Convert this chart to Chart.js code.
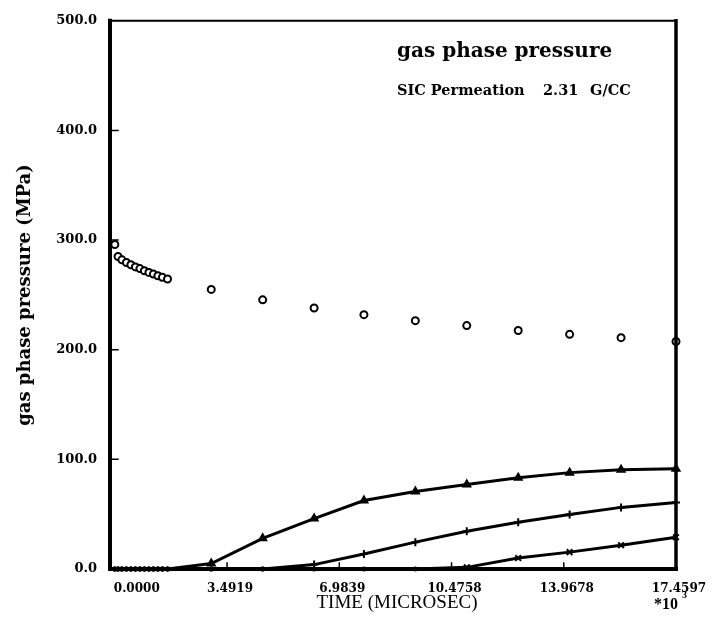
<!DOCTYPE html>
<html>
<head>
<meta charset="utf-8">
<script src="https://cdn.jsdelivr.net/npm/chart.js@4/dist/chart.umd.min.js"></script>
<style>
  html, body { margin: 0; padding: 0; background: #fff; }
  canvas { display: block; }
</style>
</head>
<body>
<canvas id="pressureChart" width="713" height="630"></canvas>
<script>
// time (x 10^3 microsec)
const times = [0, 0.1, 0.22, 0.36, 0.5, 0.64, 0.78, 0.92, 1.06, 1.2, 1.34, 1.48, 1.64,
  3.0, 4.6, 6.2, 7.75, 9.35, 10.95, 12.55, 14.15, 15.75, 17.4597];

// gas phase pressure (MPa)
const gasPressure = [296, 285, 282, 279.5, 277.5, 275.5, 274, 272, 270.5, 269, 267.5, 266, 264.5,
  255, 245.5, 238, 232, 226.5, 222, 217.5, 214, 211, 207.5];
const triangleSeries = [0, 0, 0, 0, 0, 0, 0, 0, 0, 0, 0, 0, 0,
  5, 28, 46, 62.5, 70.7, 77, 83.3, 87.9, 90.6, 91.5];
const plusSeries = [0, 0, 0, 0, 0, 0, 0, 0, 0, 0, 0, 0, 0,
  0, 0, 4, 13.6, 24.5, 34.4, 42.6, 49.8, 56.2, 60.7];
const crossSeries = [0, 0, 0, 0, 0, 0, 0, 0, 0, 0, 0, 0, 0,
  0, 0, 0, 0, 0, 1.5, 10, 15.4, 21.7, 29];

// axis ticks
const xTicks = [0, 3.4919, 6.9839, 10.4758, 13.9678, 17.4597];
const xTickLabels = ["0.0000", "3.4919", "6.9839", "10.4758", "13.9678", "17.4597"];
const yTicks = [0, 100, 200, 300, 400, 500];

const toPoints = (ys) => times.map((t, i) => ({ x: t, y: ys[i] }));

// points still sitting on zero show up as small dots along the axis
const onZero = (c) => c.raw && c.raw.y === 0;

const lineSet = (ys, style) => ({
  data: toPoints(ys),
  showLine: true,
  borderColor: "#000",
  backgroundColor: "#000",
  borderWidth: 3,
  pointStyle: (c) => (onZero(c) ? "circle" : style),
  pointRadius: (c) => (onZero(c) ? 1.5 : 4),
  pointBorderWidth: 2,
  clip: false
});

// frame, inward ticks and all the text
const framePlugin = {
  id: "frame",
  afterDraw(chart) {
    const { ctx, chartArea: a, scales } = chart;
    const xs = scales.x, ys = scales.y;
    ctx.save();
    ctx.strokeStyle = "#000";
    ctx.lineCap = "square";

    // box
    ctx.lineWidth = 4;
    ctx.beginPath();
    ctx.moveTo(a.left, a.top); ctx.lineTo(a.left, a.bottom); ctx.lineTo(a.right, a.bottom);
    ctx.stroke();
    ctx.lineWidth = 3.5;
    ctx.beginPath();
    ctx.moveTo(a.right, a.bottom); ctx.lineTo(a.right, a.top);
    ctx.stroke();
    ctx.lineWidth = 2;
    ctx.beginPath();
    ctx.moveTo(a.left, a.top); ctx.lineTo(a.right, a.top);
    ctx.stroke();

    // inward ticks
    ctx.lineWidth = 1.5;
    ctx.beginPath();
    yTicks.slice(1, -1).forEach((v) => {
      const y = ys.getPixelForValue(v);
      ctx.moveTo(a.left, y); ctx.lineTo(a.left + 8, y);
    });
    xTicks.slice(1, -1).forEach((v) => {
      const x = xs.getPixelForValue(v);
      ctx.moveTo(x, a.bottom); ctx.lineTo(x, a.bottom - 6);
    });
    ctx.stroke();

    ctx.fillStyle = "#000";

    // x tick labels
    ctx.font = "bold 12px 'DejaVu Serif'";
    ctx.textBaseline = "alphabetic";
    xTicks.forEach((v, i) => {
      const x = xs.getPixelForValue(v);
      if (i === 0) {
        ctx.textAlign = "left";
        ctx.fillText(xTickLabels[i], x - 1, 592);
      } else {
        ctx.textAlign = "center";
        ctx.fillText(xTickLabels[i], x + 3, 592);
      }
    });

    // axis titles
    ctx.font = "19px 'Liberation Serif'";
    ctx.textAlign = "center";
    ctx.fillText("TIME (MICROSEC)", 397, 608);
    ctx.font = "bold 16px 'Liberation Serif'";
    ctx.textAlign = "left";
    ctx.fillText("*10", 654, 609);
    ctx.font = "bold 10px 'Liberation Serif'";
    ctx.fillText("3", 682, 598);

    ctx.save();
    ctx.translate(30, 295);
    ctx.rotate(-Math.PI / 2);
    ctx.font = "bold 18px 'DejaVu Serif'";
    ctx.textAlign = "center";
    ctx.fillText("gas phase pressure (MPa)", 0, 0);
    ctx.restore();

    // title block
    ctx.textAlign = "left";
    ctx.font = "bold 20px 'DejaVu Serif'";
    ctx.fillText("gas phase pressure", 397, 57);
    ctx.font = "bold 14.5px 'DejaVu Serif'";
    ctx.fillText("SIC Permeation", 397, 95);
    ctx.fillText("2.31", 543, 95);
    ctx.fillText("G/CC", 590, 95);

    ctx.restore();
  }
};

new Chart(document.getElementById("pressureChart"), {
  type: "scatter",
  data: {
    datasets: [
      {
        data: toPoints(gasPressure),
        showLine: false,
        pointStyle: "circle",
        pointRadius: 3.5,
        pointBorderWidth: 2,
        borderColor: "#000",
        backgroundColor: "#fff",
        clip: false
      },
      lineSet(triangleSeries, "triangle"),
      lineSet(plusSeries, "cross"),
      lineSet(crossSeries, "crossRot")
    ]
  },
  options: {
    responsive: false,
    animation: false,
    layout: { padding: { top: 17, right: 37, bottom: 0, left: 0 } },
    plugins: { legend: { display: false }, tooltip: { enabled: false } },
    scales: {
      x: {
        type: "linear",
        min: -0.15,
        max: 17.4597,
        grid: { display: false },
        border: { display: false },
        ticks: { display: false },
        afterFit: (s) => { s.height = 61; }
      },
      y: {
        min: 0,
        max: 500,
        grid: { display: false, drawTicks: false },
        border: { display: false },
        afterBuildTicks: (s) => { s.ticks = yTicks.map((v) => ({ value: v })); },
        afterFit: (s) => { s.width = 110; },
        ticks: {
          padding: 13,
          color: "#000",
          font: { family: "'DejaVu Serif'", size: 13, weight: "bold" },
          callback: (v) => Number(v).toFixed(1)
        }
      }
    }
  },
  plugins: [framePlugin]
});
</script>
</body>
</html>
